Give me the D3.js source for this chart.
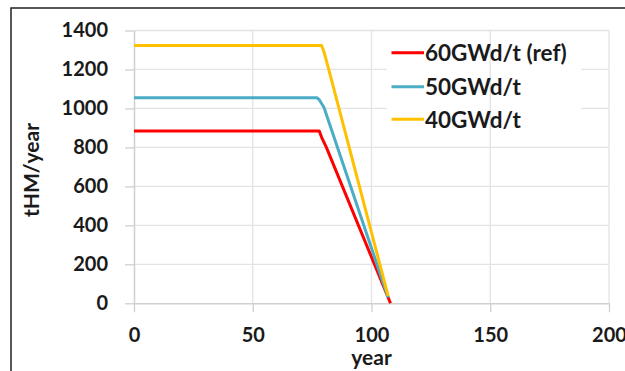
<!DOCTYPE html>
<html><head><meta charset="utf-8">
<script src="https://cdn.jsdelivr.net/npm/d3@7"></script>
<style>
html,body{margin:0;padding:0;background:#fff;}
svg{display:block;}
text{font-family:Lato,"Open Sans",sans-serif;font-weight:700;fill:#1a1a1a;}
</style></head>
<body>
<svg id="c" width="625" height="371"></svg>
<script>
const seriesNames = ["60GWd/t (ref)", "50GWd/t", "40GWd/t"];
const seriesColors = ["#ff0000", "#4bacc6", "#ffc000"];
const red60 = [[0,884],[78,884],[79,852],[81,800],[108,0]];
const blue50 = [[0,1055],[77,1055],[78,1045],[80,1005],[107,30]];
const yellow40 = [[0,1323],[79,1323],[80,1290],[82,1200],[107,38]];
const seriesData = [red60, blue50, yellow40];
const xTicks = [0,50,100,150,200];
const yTicks = [0,200,400,600,800,1000,1200,1400];

const svg = d3.select("#c");
const L = 134, R = 609, T = 30.5, B = 303.3;
const x = d3.scaleLinear().domain([0,200]).range([L,R]);
const y = d3.scaleLinear().domain([0,1400]).range([B,T]);

// outer frame
svg.append("path").attr("d","M11,380 L11,8 L640,8").attr("fill","none").attr("stroke","#222").attr("stroke-width",1.5);

// horizontal gridlines
svg.append("g").selectAll("line").data(yTicks.filter(d=>d>0)).join("line")
  .attr("x1",L).attr("x2",R).attr("y1",d=>y(d)).attr("y2",d=>y(d))
  .attr("stroke","#e3e3e3").attr("stroke-width",1.3);
// legend background masks horizontal gridlines
svg.append("rect").attr("x",387).attr("y",38).attr("width",194).attr("height",95).attr("fill","#fff");
// vertical gridlines
svg.append("g").selectAll("line").data(xTicks.filter(d=>d>0)).join("line")
  .attr("x1",d=>x(d)).attr("x2",d=>x(d)).attr("y1",T).attr("y2",B)
  .attr("stroke","#e3e3e3").attr("stroke-width",1.3);

// axes
const fmt = d3.format("d");
const yAxis = svg.append("g").attr("transform",`translate(${L},0)`)
  .call(d3.axisLeft(y).tickValues(yTicks).tickFormat(fmt).tickSize(9).tickPadding(17).tickSizeOuter(0));
const xAxis = svg.append("g").attr("transform",`translate(0,${B})`)
  .call(d3.axisBottom(x).tickValues(xTicks).tickFormat(fmt).tickSize(9).tickPadding(16).tickSizeOuter(0));
[yAxis,xAxis].forEach(a=>{
  a.select(".domain").attr("stroke","#d0d0d0").attr("stroke-width",1.5);
  a.selectAll(".tick line").attr("stroke","#d0d0d0").attr("stroke-width",1.3);
  a.selectAll("text").style("font-size","20px").style("font-family","Lato").style("font-weight","700").attr("fill","#1a1a1a");
});

// axis titles
svg.append("text").attr("x",(L+R)/2).attr("y",365).attr("text-anchor","middle").style("font-size","21px").text("year");
svg.append("text").attr("transform","translate(39,170) rotate(-90)").attr("text-anchor","middle").style("font-size","21px").text("tHM/year");

// lines
const line = d3.line().x(d=>x(d[0])).y(d=>y(d[1]));
svg.append("g").selectAll("path").data(seriesData).join("path")
  .attr("d",line).attr("fill","none").attr("stroke",(d,i)=>seriesColors[i])
  .attr("stroke-width",3).attr("stroke-linejoin","round");

// legend
const ly = [52.7, 86.7, 119.3];
const lg = svg.append("g").selectAll("g").data(seriesNames).join("g");
lg.append("line").attr("x1",391.5).attr("x2",424).attr("y1",(d,i)=>ly[i]).attr("y2",(d,i)=>ly[i])
  .attr("stroke",(d,i)=>seriesColors[i]).attr("stroke-width",3);
lg.append("text").attr("x",425).attr("y",(d,i)=>ly[i]+8.3).style("font-size","22.5px").text(d=>d);
</script>
</body></html>
